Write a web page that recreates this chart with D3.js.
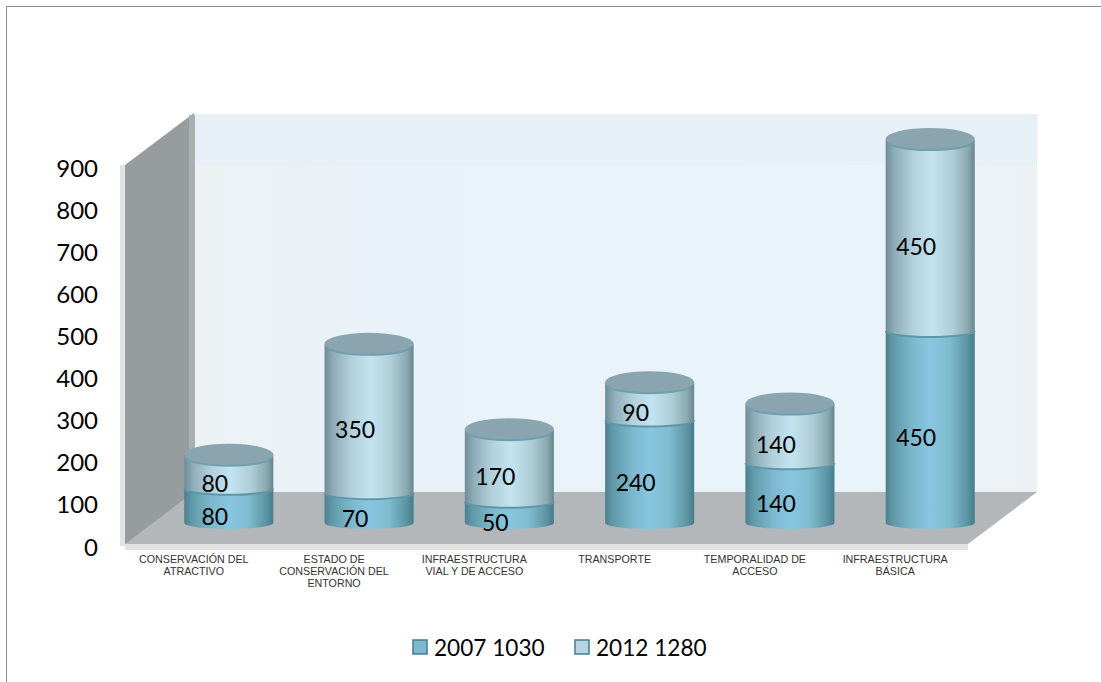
<!DOCTYPE html>
<html><head><meta charset="utf-8">
<script src="https://cdn.jsdelivr.net/npm/d3@7/dist/d3.min.js"></script>
<style>html,body{margin:0;background:#fff}svg{display:block}</style></head>
<body><svg id="c" width="1101" height="682"></svg>
<script>
const categories = [["CONSERVACIÓN DEL","ATRACTIVO"],["ESTADO DE","CONSERVACIÓN DEL","ENTORNO"],["INFRAESTRUCTURA","VIAL Y DE ACCESO"],["TRANSPORTE"],["TEMPORALIDAD DE","ACCESO"],["INFRAESTRUCTURA","BÁSICA"]];
const values2007 = [80,70,50,240,140,450];
const values2012 = [80,350,170,90,140,450];
const legendLabels = ["2007 1030","2012 1280"];
const tickValues = [0,100,200,300,400,500,600,700,800,900];

const svg = d3.select("#c");
const defs = svg.append("defs");
function grad(id, stops){
  const g = defs.append("linearGradient").attr("id",id);
  stops.forEach(([o,c])=>g.append("stop").attr("offset",o).attr("stop-color",c));
}
grad("g07",[["0","#4e7f8e"],["0.08","#5f98a8"],["0.3","#7cb8cd"],["0.5","#88c6e0"],["0.72","#7fbccf"],["0.92","#5c93a3"],["1","#457c8b"]]);
grad("g12",[["0","#6f8d96"],["0.1","#8fadb8"],["0.3","#b2d0dc"],["0.52","#c2e3f0"],["0.75","#aecdd6"],["0.92","#8ba9b0"],["1","#66858e"]]);
grad("wall",[["0","#edf1f4"],["0.2","#e9f2f8"],["0.8","#e8f3fa"],["1","#edf1f4"]]);

// frame
svg.append("path").attr("d","M6.5,682V6.5H1101").attr("fill","none").attr("stroke","#8c8c8c");

const bx = d3.scaleBand().domain(d3.range(categories.length)).range([159,1000]).paddingInner(0.365).paddingOuter(0.18);
const yAxis = d3.scaleLinear().domain([0,900]).range([546,167]);
const yBar = d3.scaleLinear().domain([0,900]).range([523,139]);

// 3D walls
const wall = svg.append("g");
wall.append("rect").attr("x",194).attr("y",114).attr("width",843).attr("height",378).attr("fill","url(#wall)");
wall.append("rect").attr("x",194).attr("y",114).attr("width",843).attr("height",51).attr("fill","#e8f0f7");
wall.append("path").attr("d","M125,165L194,113V492L125,546Z").attr("fill","#979c9e");
wall.append("path").attr("d","M120,165H125V546H120Z").attr("fill","#dfe3e5");
wall.append("rect").attr("x",189).attr("y",115).attr("width",6).attr("height",377).attr("fill","#a9afb1");
wall.append("path").attr("d","M194,492H1037L968,544H125Z").attr("fill","#b4b7ba");
wall.append("rect").attr("x",125).attr("y",544).attr("width",843).attr("height",6).attr("fill","#e2e2e2");

// cylinders
const ry = 10, g = svg.append("g");
function seg(sel, x0, w, y0, y1, fill, r0){
  return sel.append("path")
   .attr("d",`M${x0},${y0}A${w/2},${r0} 0 0 0 ${x0+w},${y0}V${y1}A${w/2},${r0} 0 0 1 ${x0},${y1}Z`)
   .attr("fill",fill);
}
categories.forEach((c,i)=>{
  const x0 = bx(i), w = bx.bandwidth();
  const yb = yBar(0), y1 = yBar(values2007[i]), y2 = yBar(values2007[i]+values2012[i]);
  seg(g,x0,w,yb,y1,"url(#g07)",6);
  seg(g,x0,w,y1,y2,"url(#g12)",6);
  g.append("path").attr("d",`M${x0},${y1}A${w/2},6 0 0 0 ${x0+w},${y1}`).attr("fill","none").attr("stroke","#5f96a8").attr("stroke-width",2);
  g.append("ellipse").attr("cx",x0+w/2).attr("cy",y2).attr("rx",w/2).attr("ry",ry+1).attr("fill","#8aa5b0");
  g.append("path").attr("d",`M${x0+3},${y2+3}A${w/2-3},8 0 0 0 ${x0+w-3},${y2+3}`).attr("fill","none").attr("stroke","#6f9fb0").attr("stroke-width",2);
});

// y axis labels
svg.append("g").selectAll("text").data(tickValues).join("text")
  .attr("x",98).attr("y",d=>yAxis(d)).attr("text-anchor","end").attr("dominant-baseline","central")
  .attr("font-family","Lato").attr("font-size",24).attr("fill","#000").text(d=>d);

// x labels
const xl = svg.append("g");
categories.forEach((lines,i)=>{
  const t = xl.append("text").attr("font-family","Liberation Sans").attr("font-size",10.7).attr("fill","#333").attr("text-anchor","middle");
  lines.forEach((s,k)=>t.append("tspan").attr("x",bx(i)+bx.bandwidth()/2-35).attr("y",563+k*12).text(s));
});

// value labels
const vl = svg.append("g").attr("font-family","Lato").attr("font-size",23).attr("fill","#000").attr("text-anchor","middle");
categories.forEach((c,i)=>{
  const cx = bx(i)+bx.bandwidth()/2-14;
  vl.append("text").attr("x",cx).attr("y",(yBar(0)+yBar(values2007[i]))/2+10).attr("dominant-baseline","central").text(values2007[i]);
  vl.append("text").attr("x",cx).attr("y",(yBar(values2007[i])+yBar(values2007[i]+values2012[i]))/2+11).attr("dominant-baseline","central").text(values2012[i]);
});

// legend
const lx = d3.scalePoint().domain(legendLabels).range([412,574]);
const lc = ["#80b8cf","#b8d4e0"];
legendLabels.forEach((s,i)=>{
  svg.append("rect").attr("x",lx(s)+1).attr("y",640).attr("width",14).attr("height",14).attr("fill",lc[i]).attr("stroke","#3f7f92").attr("stroke-width",1.5);
  svg.append("text").attr("x",lx(s)+22).attr("y",647).attr("dominant-baseline","central").attr("font-family","Lato").attr("font-size",22.6).attr("fill","#000").text(s);
});
</script></body></html>
